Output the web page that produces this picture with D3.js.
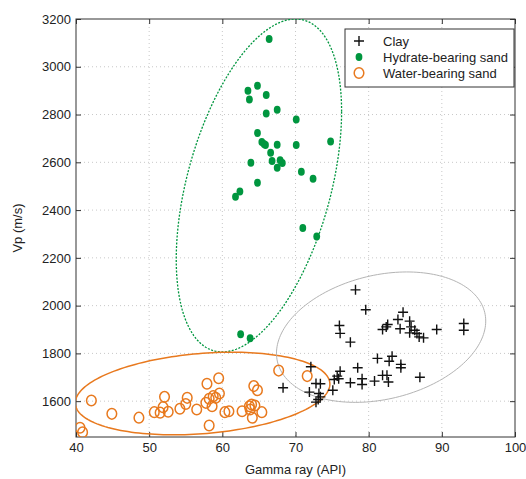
<!DOCTYPE html>
<meta charset="utf-8">
<style>
body {
  margin: 0;
  background: #fff;
  font-family: "Liberation Sans", Arial, sans-serif;
}
.grid line {
  stroke: #c8c8c8;
  stroke-width: 1px;
  stroke-dasharray: 1,3;
}
.frame {
  fill: none;
  stroke: #333;
  stroke-width: 1px;
}
.axis text {
  font-size: 13px;
  fill: #222;
}
.axis path {
  display: none;
}
.axis line {
  stroke: #333;
}
.label {
  font-size: 13px;
  fill: #222;
}
</style>
<body>
<script src="https://d3js.org/d3.v7.min.js"></script>
<script>

var width = 526,
    height = 479;

var margin = {left: 76, right: 11, top: 19, bottom: 42};

// Gamma ray (API), Vp (m/s)
var clayGR = [78.2, 79.6, 76.0, 76.1, 77.5, 84.7, 84.0, 82.6, 82.4, 81.9, 84.3, 85.6, 85.8, 86.3, 85.6, 86.6, 86.9, 87.5, 89.3, 93.0, 93.0,
              81.2, 83.2, 82.8, 84.4, 84.4, 87.0, 78.5, 76.1, 75.7, 75.9, 75.3, 77.5, 79.1, 79.1, 80.8, 81.9, 82.5, 82.7,
              72.1, 68.3, 72.8, 73.4, 71.9, 73.2, 73.4, 73.1, 72.8, 75.1];
var clayVp = [2066, 1983, 1917, 1884, 1847, 1972, 1942, 1921, 1911, 1900, 1903, 1935, 1911, 1897, 1886, 1883, 1869, 1865, 1900, 1925, 1897,
              1779, 1788, 1767, 1754, 1740, 1700, 1740, 1725, 1705, 1694, 1691, 1677, 1694, 1670, 1684, 1708, 1708, 1680,
              1744, 1656, 1674, 1673, 1638, 1632, 1618, 1607, 1596, 1646];

var hydGR = [66.4, 63.5, 64.8, 63.7, 66.0, 66.0, 67.5, 70.1, 64.8, 65.4, 65.7, 65.9, 67.5, 70.1, 74.8,
             66.6, 66.8, 67.9, 68.2, 67.5, 63.9, 70.8, 72.4, 64.8, 62.4, 61.8, 71.0, 72.9, 62.5, 63.8];
var hydVp = [3116, 2900, 2921, 2863, 2882, 2804, 2820, 2779, 2723, 2685, 2677, 2673, 2674, 2672, 2687,
             2640, 2606, 2609, 2597, 2577, 2598, 2560, 2531, 2514, 2478, 2456, 2325, 2289, 1880, 1863];

var watGR = [40.55, 40.9, 42.1, 44.9, 48.6, 50.7, 51.5, 51.9, 52.1, 52.6, 54.2, 55.0, 55.2, 56.5, 57.9, 57.75, 58.2, 58.6,
             58.75, 59.1, 59.6, 59.5, 58.2, 60.35, 60.9, 62.7, 63.7, 64.0, 64.45, 64.1, 64.3, 64.8, 65.4, 67.7, 71.6, 63.8];
var watVp = [1489, 1470, 1603, 1547, 1531, 1554, 1552, 1575, 1618, 1556, 1568, 1588, 1614, 1565, 1673, 1593, 1610, 1579,
             1621, 1614, 1632, 1696, 1498, 1554, 1558, 1558, 1579, 1586, 1582, 1531, 1663, 1646, 1554, 1728, 1705, 1565];

// ellipses: x = cx + rx*cos(t), y = cy + ry*sin(t + phi)
var ellipseNames = ["hydrate", "water", "clay"];
var ellipseCx = [65.0, 57.3, 81.7];
var ellipseCy = [2503, 1632, 1868];
var ellipseRx = [11.3, 17.4, 14.3];
var ellipseRy = [697, 173, 273];
var ellipsePhi = [0.46, 0.23, 0.25];

var xTicks = [40, 50, 60, 70, 80, 90, 100];
var yTicks = [1600, 1800, 2000, 2200, 2400, 2600, 2800, 3000, 3200];

var legendLabels = ["Clay", "Hydrate-bearing sand", "Water-bearing sand"];

var green = "#00963f",
    orange = "#e8791e";

var x = d3.scaleLinear()
    .domain([40, 100])
    .range([margin.left, width - margin.right]);

var y = d3.scaleLinear()
    .domain([1450, 3200])
    .range([height - margin.bottom, margin.top]);

var svg = d3.select("body").append("svg")
    .attr("width", width)
    .attr("height", height);

svg.append("defs").append("clipPath")
    .attr("id", "plot")
  .append("rect")
    .attr("x", margin.left)
    .attr("y", margin.top)
    .attr("width", width - margin.left - margin.right)
    .attr("height", height - margin.top - margin.bottom);

// grid
var grid = svg.append("g").attr("class", "grid");
grid.selectAll(".gx")
    .data(xTicks.slice(1, -1))
  .enter().append("line")
    .attr("x1", x).attr("x2", x)
    .attr("y1", margin.top).attr("y2", height - margin.bottom);
grid.selectAll(".gy")
    .data(yTicks.slice(0, -1))
  .enter().append("line")
    .attr("y1", y).attr("y2", y)
    .attr("x1", margin.left).attr("x2", width - margin.right);

// axes, ticks inside on all sides
svg.append("g")
    .attr("class", "axis")
    .attr("transform", "translate(0," + (height - margin.bottom) + ")")
    .call(d3.axisBottom(x).tickValues(xTicks).tickSizeInner(-5).tickSizeOuter(0).tickPadding(6));
svg.append("g")
    .attr("class", "axis")
    .attr("transform", "translate(0," + margin.top + ")")
    .call(d3.axisTop(x).tickValues(xTicks).tickSizeInner(-5).tickSizeOuter(0).tickFormat(""));
svg.append("g")
    .attr("class", "axis")
    .attr("transform", "translate(" + margin.left + ",0)")
    .call(d3.axisLeft(y).tickValues(yTicks).tickFormat(d3.format("d")).tickSizeInner(-5).tickSizeOuter(0).tickPadding(5));
svg.append("g")
    .attr("class", "axis")
    .attr("transform", "translate(" + (width - margin.right) + ",0)")
    .call(d3.axisRight(y).tickValues(yTicks).tickSizeInner(-5).tickSizeOuter(0).tickFormat(""));

svg.append("rect")
    .attr("class", "frame")
    .attr("x", margin.left)
    .attr("y", margin.top)
    .attr("width", width - margin.left - margin.right)
    .attr("height", height - margin.top - margin.bottom);

// ellipses
var line = d3.line()
    .x(function(d) { return x(d[0]); })
    .y(function(d) { return y(d[1]); })
    .curve(d3.curveLinearClosed);

function ellipsePoints(i) {
  return d3.range(0, 360, 2).map(function(a) {
    var t = a * Math.PI / 180;
    return [ellipseCx[i] + ellipseRx[i] * Math.cos(t),
            ellipseCy[i] + ellipseRy[i] * Math.sin(t + ellipsePhi[i])];
  });
}

var ellipseStyle = {
  hydrate: {stroke: green, width: 1.3, dash: "2,1.5"},
  water: {stroke: orange, width: 1.5, dash: null},
  clay: {stroke: "#b4b4b4", width: 1, dash: null}
};

var eg = svg.append("g").attr("clip-path", "url(#plot)");
ellipseNames.forEach(function(name, i) {
  var s = ellipseStyle[name];
  eg.append("path")
      .attr("d", line(ellipsePoints(i)))
      .attr("fill", "none")
      .attr("stroke", s.stroke)
      .attr("stroke-width", s.width)
      .attr("stroke-dasharray", s.dash);
});

// points
var pg = svg.append("g").attr("clip-path", "url(#plot)");

pg.selectAll(".water")
    .data(d3.range(watGR.length))
  .enter().append("ellipse")
    .attr("class", "water")
    .attr("cx", function(i) { return x(watGR[i]); })
    .attr("cy", function(i) { return y(watVp[i]); })
    .attr("rx", 4.8)
    .attr("ry", 5.3)
    .attr("fill", "none")
    .attr("stroke", orange)
    .attr("stroke-width", 1.5);

pg.selectAll(".hyd")
    .data(d3.range(hydGR.length))
  .enter().append("ellipse")
    .attr("class", "hyd")
    .attr("cx", function(i) { return x(hydGR[i]); })
    .attr("cy", function(i) { return y(hydVp[i]); })
    .attr("rx", 3.4)
    .attr("ry", 4)
    .attr("fill", green);

function plus(s) {
  return "M" + (-s) + ",0H" + s + "M0," + (-s) + "V" + s;
}

pg.selectAll(".clay")
    .data(d3.range(clayGR.length))
  .enter().append("path")
    .attr("class", "clay")
    .attr("transform", function(i) { return "translate(" + x(clayGR[i]) + "," + y(clayVp[i]) + ")"; })
    .attr("d", plus(5))
    .attr("fill", "none")
    .attr("stroke", "#111")
    .attr("stroke-width", 1.4);

// axis labels
svg.append("text")
    .attr("class", "label")
    .attr("x", (margin.left + width - margin.right) / 2)
    .attr("y", height - 5)
    .attr("text-anchor", "middle")
    .text("Gamma ray (API)");

svg.append("text")
    .attr("class", "label")
    .attr("transform", "translate(22," + ((margin.top + height - margin.bottom) / 2) + ") rotate(-90)")
    .attr("text-anchor", "middle")
    .text("Vp (m/s)");

// legend
var lg = svg.append("g").attr("transform", "translate(345,29)");
lg.append("rect")
    .attr("width", 169)
    .attr("height", 58)
    .attr("fill", "#fff")
    .attr("stroke", "#333")
    .attr("stroke-width", 1);

var items = lg.selectAll(".item")
    .data(legendLabels)
  .enter().append("g")
    .attr("transform", function(d, i) { return "translate(0," + (12 + i * 16) + ")"; });

items.append("text")
    .attr("class", "label")
    .attr("x", 38)
    .attr("y", 4.5)
    .text(function(d) { return d; });

items.filter(function(d, i) { return i === 0; }).append("path")
    .attr("transform", "translate(14,0)")
    .attr("d", plus(5))
    .attr("stroke", "#111")
    .attr("stroke-width", 1.4);
items.filter(function(d, i) { return i === 1; }).append("ellipse")
    .attr("cx", 14).attr("rx", 3.4).attr("ry", 4)
    .attr("fill", green);
items.filter(function(d, i) { return i === 2; }).append("ellipse")
    .attr("cx", 14).attr("rx", 4.8).attr("ry", 5.3)
    .attr("fill", "none")
    .attr("stroke", orange)
    .attr("stroke-width", 1.5);

</script>
